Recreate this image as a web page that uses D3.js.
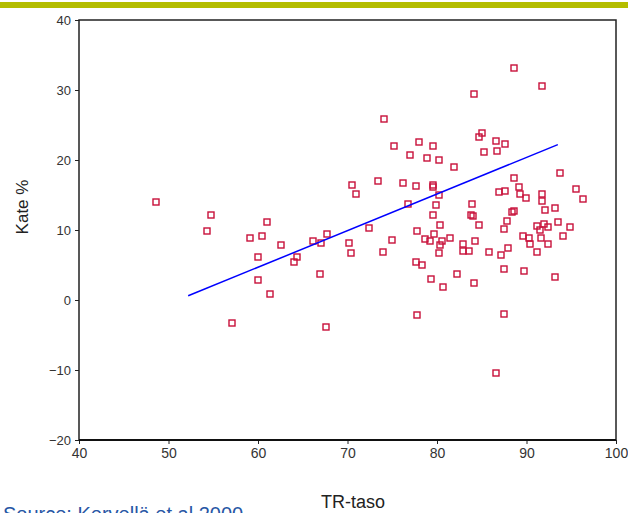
<!DOCTYPE html>
<html>
<head>
<meta charset="utf-8">
<script src="https://cdn.jsdelivr.net/npm/d3@7"></script>
<style>
  body { margin: 0; background: #fff; }
  svg { display: block; font-family: Arial, "Liberation Sans", sans-serif; }
</style>
</head>
<body>
<svg id="chart" width="628" height="513"></svg>
<script>
// TR-taso (x) and Kate % (y), one entry per hospital
const trTaso = [
  48.6, 54.7, 54.3, 61.0, 60.4, 59.1, 62.6, 60.0, 64.4, 64.0,
  60.0, 61.3, 57.1, 67.6, 67.7, 66.2, 67.0, 66.9, 70.2, 70.4,
  70.5, 70.9, 72.4, 84.1, 74.1, 85.0, 84.7, 85.3, 75.2, 78.0,
  79.5, 77.0, 78.9, 80.2, 81.9, 73.4, 76.2, 77.6, 79.5, 79.6,
  80.2, 76.8, 79.9, 83.9, 79.6, 83.8, 84.0, 80.3, 84.7, 77.8,
  79.7, 75.0, 78.7, 79.2, 80.6, 81.5, 80.3, 84.2, 82.9, 82.9,
  83.6, 85.8, 74.0, 80.2, 77.7, 78.3, 82.2, 79.3, 80.7, 84.1,
  77.8, 87.5, 86.6, 88.6, 91.7, 86.6, 87.6, 86.7, 93.7, 88.6,
  95.5, 96.3, 89.2, 86.9, 87.6, 89.3, 89.9, 91.7, 91.7, 92.1,
  93.2, 88.4, 88.6, 87.8, 93.5, 94.9, 87.5, 91.2, 91.9, 91.5,
  92.4, 89.6, 90.3, 91.6, 94.1, 90.4, 92.4, 87.9, 87.1, 91.2,
  87.5, 89.7, 93.2
];
const kate = [
  14.0, 12.1, 9.9, 11.1, 9.2, 8.9, 7.9, 6.1, 6.1, 5.4,
  2.9, 0.8, -3.3, -3.8, 9.5, 8.5, 8.2, 3.7, 8.1, 6.7,
  16.5, 15.2, 10.3, 29.5, 25.9, 23.8, 23.3, 21.1, 22.0, 22.6,
  22.0, 20.7, 20.3, 20.0, 19.0, 17.0, 16.7, 16.3, 16.5, 16.2,
  15.0, 13.7, 13.6, 13.7, 12.1, 12.1, 12.0, 10.7, 10.7, 9.9,
  9.5, 8.6, 8.7, 8.5, 8.5, 8.9, 7.8, 8.5, 8.0, 7.0,
  7.0, 6.8, 6.9, 6.7, 5.5, 5.0, 3.7, 3.0, 1.9, 2.4,
  -2.2, -2.0, -10.4, 33.1, 30.5, 22.7, 22.3, 21.3, 18.1, 17.4,
  15.9, 14.4, 16.1, 15.4, 15.6, 15.1, 14.6, 15.1, 14.2, 12.9,
  13.2, 12.6, 12.7, 11.3, 11.1, 10.5, 10.1, 10.6, 10.9, 10.0,
  10.5, 9.1, 8.9, 8.9, 9.1, 8.0, 8.0, 7.5, 6.4, 6.9,
  4.5, 4.2, 3.3
];
// fitted line ends
const fitX = [52.2, 93.5];
const fitY = [0.6, 22.2];
const xTicks = [40, 50, 60, 70, 80, 90, 100];
const yTicks = [-20, -10, 0, 10, 20, 30, 40];

const svg = d3.select("#chart");

const x = d3.scaleLinear().domain([40, 100]).range([79, 616]);
const y = d3.scaleLinear().domain([-20, 40]).range([440, 20]);

svg
  .append("rect")
  .attr("x", 0)
  .attr("y", 2)
  .attr("width", 628)
  .attr("height", 6)
  .attr("fill", "#b4bd00");

const yAxis = svg
  .append("g")
  .attr("transform", "translate(79,0)")
  .call(d3.axisLeft(y).tickValues(yTicks).tickSize(4).tickPadding(4));
yAxis.select(".domain").remove();
yAxis.selectAll("line").attr("stroke", "#222");
yAxis
  .selectAll("text")
  .attr("font-size", 13)
  .attr("font-family", "Arial, 'Liberation Sans', sans-serif")
  .attr("fill", "#333");

const xAxis = svg
  .append("g")
  .attr("transform", "translate(0,440)")
  .call(d3.axisBottom(x).tickValues(xTicks).tickSize(4).tickPadding(4));
xAxis.select(".domain").remove();
xAxis.selectAll("line").attr("stroke", "#222");
xAxis
  .selectAll("text")
  .attr("font-size", 14)
  .attr("font-family", "Arial, 'Liberation Sans', sans-serif")
  .attr("fill", "#333");

svg
  .append("rect")
  .attr("x", x(40))
  .attr("y", y(40))
  .attr("width", x(100) - x(40))
  .attr("height", y(-20) - y(40))
  .attr("fill", "none")
  .attr("stroke", "#222")
  .attr("stroke-width", 1.5);

svg
  .append("line")
  .attr("x1", x(40))
  .attr("x2", x(100))
  .attr("y1", y(-20))
  .attr("y2", y(-20))
  .attr("stroke", "#111")
  .attr("stroke-width", 2.2);

const points = trTaso.map((v, i) => ({ tr: v, kate: kate[i] }));

svg
  .append("g")
  .selectAll("rect")
  .data(points)
  .join("rect")
  .attr("x", (d) => Math.round(x(d.tr)) - 3)
  .attr("y", (d) => Math.round(y(d.kate)) - 3)
  .attr("width", 6)
  .attr("height", 6)
  .attr("fill", "none")
  .attr("stroke", "#c8103a")
  .attr("stroke-width", 1.4);

const fit = fitX.map((v, i) => [v, fitY[i]]);
svg
  .append("path")
  .datum(fit)
  .attr("d", d3.line().x((d) => x(d[0])).y((d) => y(d[1])))
  .attr("fill", "none")
  .attr("stroke", "#0000ff")
  .attr("stroke-width", 1.5);

svg
  .append("text")
  .attr("transform", "translate(28,207) rotate(-90)")
  .attr("text-anchor", "middle")
  .attr("font-size", 17)
  .attr("fill", "#222")
  .text("Kate %");

svg
  .append("text")
  .attr("x", 353)
  .attr("y", 508)
  .attr("text-anchor", "middle")
  .attr("font-size", 18)
  .attr("fill", "#222")
  .text("TR-taso");

// the source line sits below the picture's edge, as in the slide
svg
  .append("text")
  .attr("x", 3)
  .attr("y", 521)
  .attr("font-size", 20)
  .attr("fill", "#2756a5")
  .text("Source: Kervellä et al 2000");
</script>
</body>
</html>
